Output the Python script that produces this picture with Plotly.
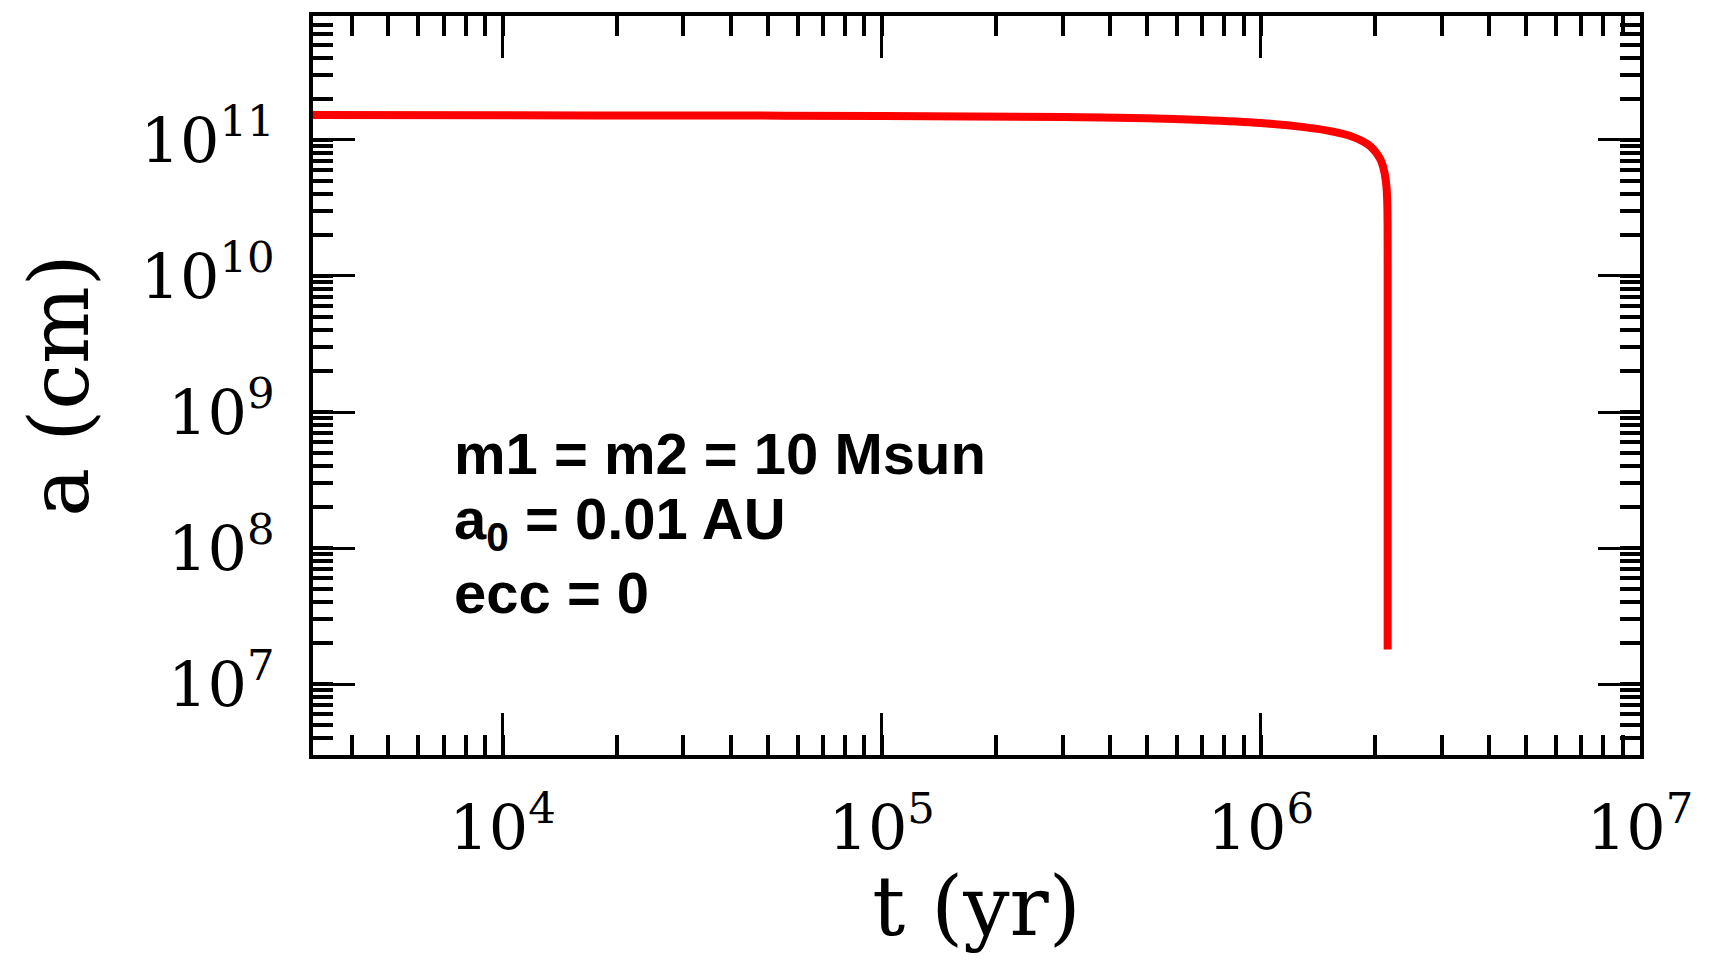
import plotly.graph_objects as go

# Data: orbital separation a (cm) vs time t (yr)
t_yr = [3.16e3, 1.0e4, 3.0e4, 1.0e5, 3.0e5, 5.0e5, 7.0e5, 1.0e6, 1.3e6, 1.5e6,
        1.7e6, 1.85e6, 1.95e6, 2.03e6, 2.08e6, 2.12e6, 2.145e6, 2.155e6,
        2.159e6, 2.1599e6, 2.16e6]
a_cm = [1.52e11, 1.515e11, 1.51e11, 1.50e11, 1.47e11, 1.44e11, 1.40e11, 1.33e11,
        1.24e11, 1.17e11, 1.08e11, 9.8e10, 8.9e10, 7.8e10, 6.9e10, 5.7e10,
        4.5e10, 3.4e10, 2.3e10, 1.2e10, 1.8e7]

x_tickvals = [1e4, 1e5, 1e6, 1e7]
x_ticktext = ["10<sup>4</sup>", "10<sup>5</sup>", "10<sup>6</sup>", "10<sup>7</sup>"]
y_tickvals = [1e7, 1e8, 1e9, 1e10, 1e11]
y_ticktext = ["10<sup>7</sup>", "10<sup>8</sup>", "10<sup>9</sup>",
              "10<sup>10</sup>", "10<sup>11</sup>"]

x_title = "t (yr)"
y_title = "a (cm)"
label_lines = ["m1 = m2 = 10 Msun", "a<sub>0</sub> = 0.01 AU", "ecc = 0"]

serif = "DejaVu Serif"

# figure sized to fit inside the default 8px page margin
W, H = 1693, 946
L, T, R, B = 305, 4, 61, 199
PW, PH = W - L - R, H - T - B

fig = go.Figure()
fig.add_trace(go.Scatter(x=t_yr, y=a_cm, mode="lines",
                         line=dict(color="#ff0000", width=8, shape="spline", smoothing=0.6),
                         showlegend=False, hoverinfo="skip"))

axis_common = dict(
    type="log",
    showgrid=False, zeroline=False,
    showline=True, linecolor="black", linewidth=4, mirror="allticks",
    ticks="inside", ticklen=42, tickwidth=2.5, tickcolor="black",
    tickfont=dict(family=serif, size=62, color="black"),
    minor=dict(ticks="inside", ticklen=20, tickwidth=4, tickcolor="black", dtick="D1"),
)

fig.update_xaxes(**axis_common, range=[3.5, 7.0],
                 tickvals=x_tickvals, ticktext=x_ticktext,
                 ticklabelstandoff=16,
                 title=dict(text=x_title, font=dict(family=serif, size=82, color="black"),
                            standoff=24))
fig.update_yaxes(**axis_common, range=[6.48, 11.91],
                 tickvals=y_tickvals, ticktext=y_ticktext,
                 ticklabelstandoff=22,
                 title=dict(text=y_title, font=dict(family=serif, size=82, color="black"),
                            standoff=26))

for i, line in enumerate(label_lines):
    px, py = 452 - 8, 452 + 70 * i - 8
    fig.add_annotation(text="<b>" + line + "</b>", xref="paper", yref="paper",
                       x=(px - L) / PW, y=1 - (py - T) / PH,
                       xanchor="left", yanchor="middle", showarrow=False,
                       font=dict(family="Liberation Sans", size=58, color="black"))

fig.update_layout(
    width=W, height=H,
    margin=dict(l=L, r=R, t=T, b=B),
    paper_bgcolor="white", plot_bgcolor="white",
    font=dict(family=serif, color="black"),
)

fig.write_html("out.html")
